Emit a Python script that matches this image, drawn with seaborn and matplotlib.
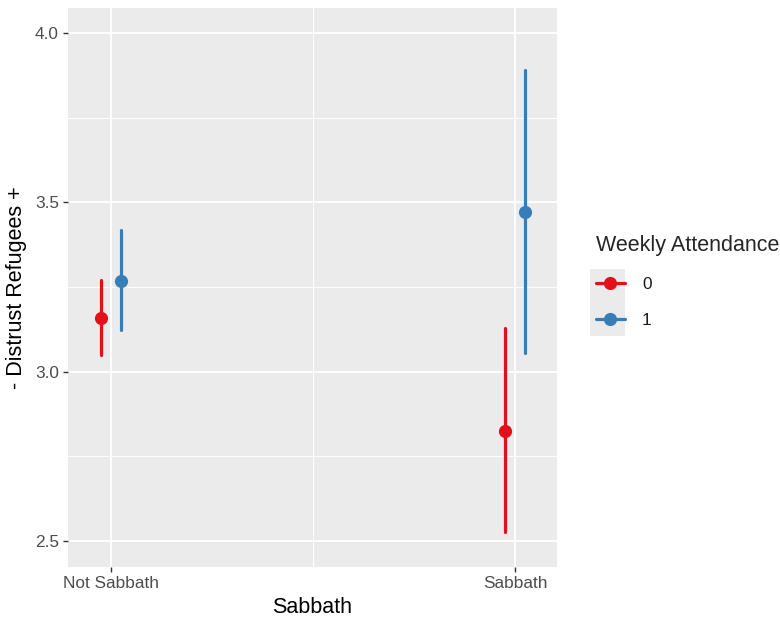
import numpy as np
import pandas as pd
import seaborn as sns
import matplotlib.pyplot as plt
from matplotlib.lines import Line2D
from matplotlib.patches import Rectangle
from matplotlib.ticker import MultipleLocator

# valores (media e intervalo)
sabbath = ["Not Sabbath", "Not Sabbath", "Sabbath", "Sabbath"]
attendance = ["0", "1", "0", "1"]
mean = [3.159, 3.268, 2.826, 3.472]
lower = [3.050, 3.124, 2.525, 3.056]
upper = [3.271, 3.419, 3.130, 3.891]

cores = ["#E3101A", "#377EB8"]

# tres linhas por grupo: mediana = media, min/max = intervalo
rows = []
for s, a, m, lo, hi in zip(sabbath, attendance, mean, lower, upper):
    for v in (lo, m, hi):
        rows.append({"Sabbath": s, "Weekly Attendance": a, "value": v})
df = pd.DataFrame(rows)

sns.set_style("darkgrid", {"axes.facecolor": "#EBEBEB", "grid.color": "white"})
plt.rcParams["font.family"] = ["Liberation Sans", "DejaVu Sans"]

fig = plt.figure(figsize=(7.8, 6.2), dpi=100)
ax = fig.add_axes([68 / 780, 1 - 567 / 620, (557 - 68) / 780, (567 - 8) / 620])

sns.pointplot(data=df, x="Sabbath", y="value", hue="Weekly Attendance",
              order=["Not Sabbath", "Sabbath"], hue_order=["0", "1"],
              estimator="median", errorbar=lambda v: (v.min(), v.max()),
              dodge=True, linestyle="none", markers="o", palette=cores,
              markersize=9.5, markeredgewidth=0, err_kws={"linewidth": 2.3},
              legend=False, ax=ax)

ax.set_xlim(-0.106, 1.104)
ax.set_ylim(2.423, 4.074)
ax.set_yticks([2.5, 3.0, 3.5, 4.0])
ax.set_yticklabels(["2.5", "3.0", "3.5", "4.0"])
ax.yaxis.set_minor_locator(MultipleLocator(0.25))
ax.xaxis.set_minor_locator(MultipleLocator(0.5))
ax.grid(which="major", color="white", linewidth=1.3)
ax.grid(which="minor", color="white", linewidth=0.7)
ax.set_axisbelow(True)
for sp in ax.spines.values():
    sp.set_visible(False)

ax.tick_params(axis="both", which="major", length=3.5, width=1, color="#333333",
               labelsize=12.4, labelcolor="#4D4D4D", pad=3,
               bottom=True, left=True)
ax.tick_params(axis="both", which="minor", length=0)

ax.set_xlabel("Sabbath", fontsize=15.5, color="black", labelpad=4)
ax.set_ylabel("- Distrust Refugees +", fontsize=15.5, color="black", labelpad=6)

# legenda no estilo ggplot
fig.patches.append(Rectangle((590 / 780, 1 - 336 / 620), 35 / 780, 67 / 620,
                             transform=fig.transFigure, facecolor="#EBEBEB",
                             edgecolor="none", zorder=0))
handles = [Line2D([], [], color=c, lw=2.3, marker="o", markersize=9.5,
                  markeredgewidth=0) for c in cores]
leg = fig.legend(handles, ["0", "1"], title="Weekly Attendance",
                 loc="upper left", bbox_to_anchor=(580 / 780, 1 - 220 / 620),
                 frameon=False, fontsize=12.4, title_fontsize=15.5,
                 handlelength=1.7, handletextpad=1.0, labelspacing=1.2,
                 alignment="left")
for t in leg.get_texts():
    t.set_color("#1A1A1A")

fig.savefig("out.png", dpi=100)
